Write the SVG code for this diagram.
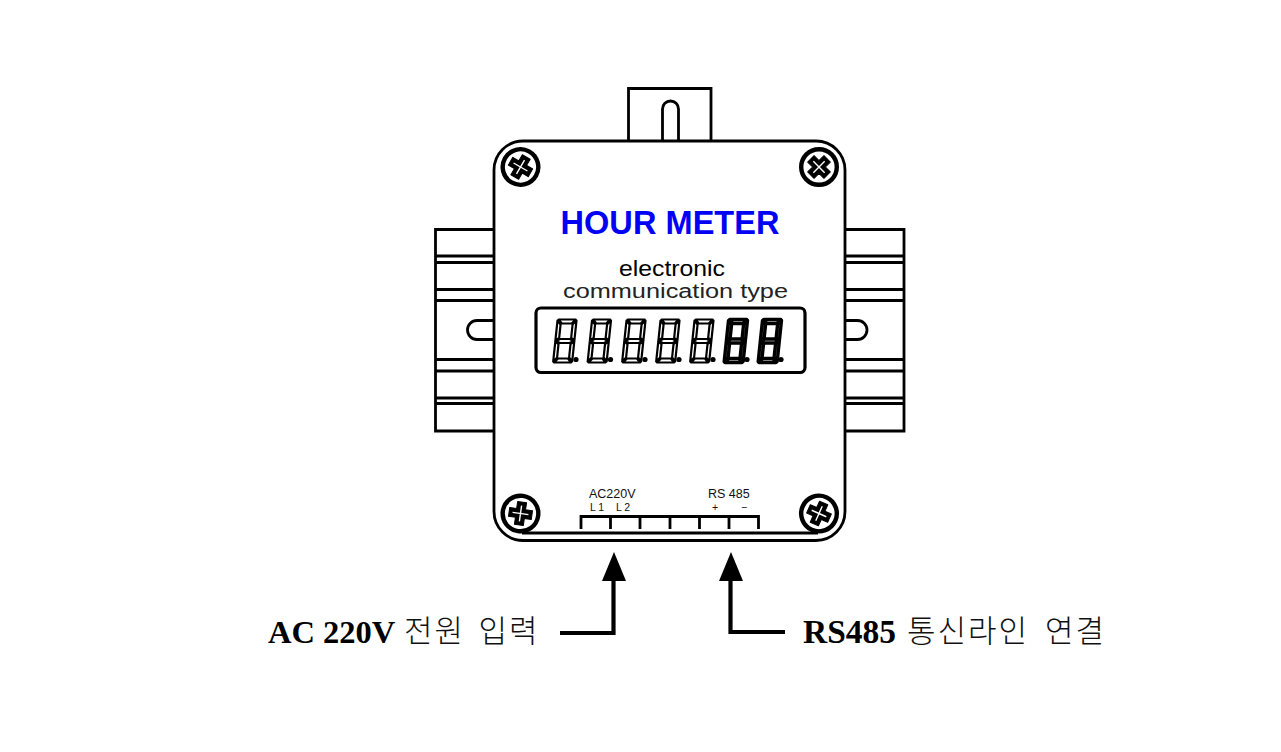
<svg xmlns="http://www.w3.org/2000/svg" width="1281" height="752" viewBox="0 0 1281 752">
<style>
.l{fill:none;stroke:#000;stroke-width:2.8}
.sans{font-family:"Liberation Sans",Arial,sans-serif;fill:#000}
.small{font-size:12.5px;fill:#111}
.tiny{font-size:10.5px;fill:#111}
.serif{font-family:"Liberation Serif","Times New Roman",serif;font-weight:700;font-size:32.500px;fill:#000}
.kr{font-family:"Noto Sans CJK KR",sans-serif;font-weight:300;font-size:31px;letter-spacing:2px;fill:#111}
.seg{fill:#fff;stroke:#000;stroke-linejoin:round}
.conn{fill:none;stroke:#000;stroke-width:4.200}
</style>
<defs>
<g id="d">
<g transform="translate(4.600,0) skewX(-6)">
<path d="M2 0H19L15.500 4H5.500Z"/>
<path d="M1 1L4.500 5V18.500L1 21Z"/>
<path d="M20 1L16.500 5V18.500L20 21Z"/>
<path d="M2 21.500L5.500 19.500H15.500L19 21.500L15.500 23.500H5.500Z"/>
<path d="M1 22L4.500 24.500V38L1 42Z"/>
<path d="M20 22L16.500 24.500V38L20 42Z"/>
<path d="M2 43L5.500 39H15.500L19 43Z"/>
</g>
<circle cx="24" cy="40" r="2.600" fill="#000" stroke="none"/>
</g>
<g id="screw">
<circle r="17.800" fill="#fff" stroke="#000" stroke-width="4.400"/>
<path d="M-4.500 -11.500H4.500V-4.500H11.500V4.500H4.500V11.500H-4.500V4.500H-11.500V-4.500H-4.500Z" fill="#000" stroke="#000" stroke-width="1" stroke-linejoin="round"/>
<path d="M-.7 -8H.7V8H-.7ZM-8 -.7H8V.7H-8Z" fill="#fff"/>
</g>
</defs>

<g id="din-tab">
<path class="l" d="M628.500 141V88.500H711V141"/>
<path class="l" d="M662.500 141V109a8 8 0 0 1 16 0V141"/>
</g>
<g id="bracket-left">
<path class="l" d="M494 229.500H435.500V431H494M435.500 256H494M435.500 262.500H494M435.500 289.500H494M435.500 300.500H494M435.500 359.500H494M435.500 371H494M435.500 398H494M435.500 403.500H494"/>
<path class="l" d="M494 320.500H477a9.500 9.500 0 0 0 0 19H494"/>
</g>
<g id="bracket-right">
<path class="l" d="M845 229.500H904V431H845M845 256H904M845 262.500H904M845 289.500H904M845 300.500H904M845 359.500H904M845 371H904M845 398H904M845 403.500H904"/>
<path class="l" d="M845 320.500H857.500a9.500 9.500 0 0 1 0 19H845"/>
</g>
<g id="body">
<rect x="494" y="141" width="351" height="399.500" rx="29" fill="#fff" stroke="#000" stroke-width="2.800"/>
<path class="l" d="M522 533H818"/>
</g>
<g id="screws">
<use href="#screw" transform="translate(520.500,167) rotate(30)"/>
<use href="#screw" transform="translate(819,167) rotate(45)"/>
<use href="#screw" transform="translate(520.500,513.500) rotate(8)"/>
<use href="#screw" transform="translate(819,513.500) rotate(24)"/>
</g>
<g id="title">
<text class="sans" x="560.500" y="234" font-size="32.500" font-weight="700" style="fill:#0000f5" textLength="219">HOUR METER</text>
<text class="sans" x="619" y="276" font-size="21.500" textLength="106" lengthAdjust="spacingAndGlyphs">electronic</text>
<text class="sans" x="563" y="298" font-size="20" textLength="225" lengthAdjust="spacingAndGlyphs" style="fill:#222">communication type</text>
</g>
<g id="display">
<rect x="536" y="308" width="269" height="64.500" rx="5" fill="#fff" stroke="#000" stroke-width="3.200"/>
<g class="seg" stroke-width="2.200">
<use href="#d" x="552" y="319.500"/>
<use href="#d" x="586.500" y="319.500"/>
<use href="#d" x="621" y="319.500"/>
<use href="#d" x="655" y="319.500"/>
<use href="#d" x="689" y="319.500"/>
</g>
<g class="seg" stroke-width="3.400">
<use href="#d" x="723" y="319.500"/>
<use href="#d" x="757" y="319.500"/>
</g>
</g>
<g id="terminal">
<path class="l" d="M581 529V516.500H758.500V529M610.500 516.500V529M640 516.500V529M670 516.500V529M699.500 516.500V529M729 516.500V529"/>
<text class="sans small" x="589" y="498">AC220V</text>
<text class="sans tiny" x="590" y="510.500">L 1</text>
<text class="sans tiny" x="616" y="510.500">L 2</text>
<text class="sans small" x="708" y="498">RS 485</text>
<text class="sans tiny" x="712" y="510.500">+</text>
<text class="sans tiny" x="741" y="510.500">−</text>
</g>
<g id="connectors">
<path class="conn" d="M560 633H613.500V575"/>
<path d="M614 552L626 581H602Z"/>
<path class="conn" d="M785 632H730.500V575"/>
<path d="M731 552L743 581H719Z"/>
</g>
<g id="label-ac">
<text class="serif" x="268" y="643">AC 220V</text>
<text class="kr" x="404" y="642">전원<tspan x="478.500">입력</tspan></text>
</g>
<g id="label-rs">
<text class="serif" x="803" y="643" style="font-size:33.500px">RS485</text>
<text class="kr" x="907" y="642">통신라인<tspan x="1045">연결</tspan></text>
</g>
</svg>
